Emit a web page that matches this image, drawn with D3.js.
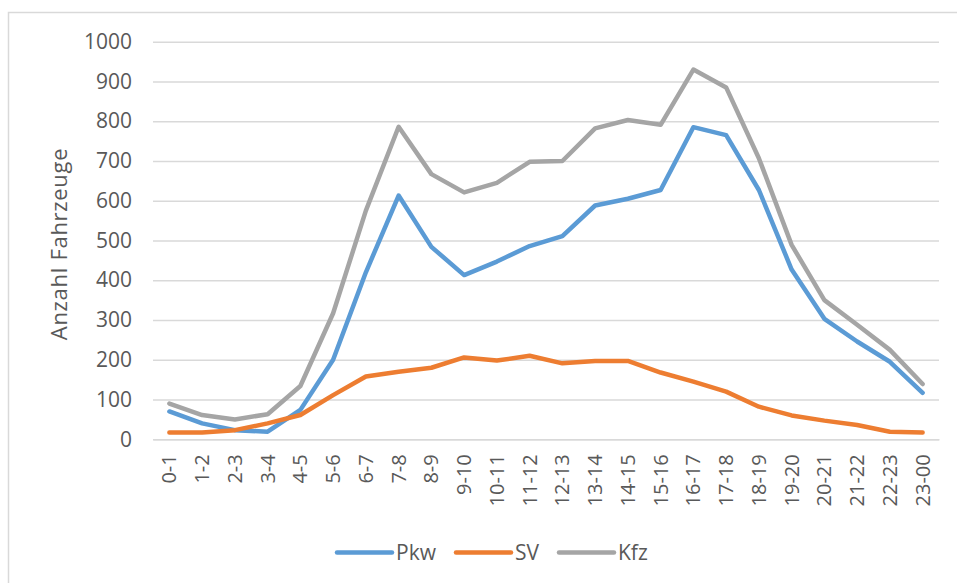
<!DOCTYPE html>
<html>
<head>
<meta charset="utf-8">
<script src="https://cdn.jsdelivr.net/npm/d3@7"></script>
<style>
  body { margin: 0; background: #fff; }
  text { font-family: "Open Sans", sans-serif; fill: #595959; }
</style>
</head>
<body>
<div id="chart"></div>
<script>
var svgWidth = 957;
var svgHeight = 583;

// hour slots and counts
var hours = ["0-1", "1-2", "2-3", "3-4", "4-5", "5-6", "6-7", "7-8", "8-9", "9-10",
  "10-11", "11-12", "12-13", "13-14", "14-15", "15-16", "16-17", "17-18",
  "18-19", "19-20", "20-21", "21-22", "22-23", "23-00"];
var pkw = [70, 40, 23, 19, 74, 200, 420, 613, 484, 413, 447, 486,
  511, 588, 605, 627, 785, 765, 627, 427, 303, 246, 195, 117];
var sv = [17, 17, 23, 40, 61, 111, 158, 170, 180, 206, 198, 210,
  191, 197, 197, 168, 145, 120, 82, 60, 47, 36, 19, 17];
var kfz = [90, 61, 50, 63, 134, 317, 575, 786, 667, 621, 645, 698,
  700, 782, 803, 791, 930, 885, 707, 489, 350, 288, 225, 139];
var yTicks = [0, 100, 200, 300, 400, 500, 600, 700, 800, 900, 1000];

var series = [
  { name: "Pkw", values: pkw, color: "#5B9BD5" },
  { name: "SV", values: sv, color: "#ED7D31" },
  { name: "Kfz", values: kfz, color: "#A5A5A5" }
];

var margin = { top: 41.7, left: 153 };
var width = 939 - margin.left;
var height = 439.3 - margin.top;

var svg = d3.select("#chart")
  .append("svg")
  .attr("width", svgWidth)
  .attr("height", svgHeight);

// light frame round the chart area
svg.append("rect")
  .attr("x", 8.5)
  .attr("y", 12.5)
  .attr("width", 960)
  .attr("height", 600)
  .attr("fill", "none")
  .attr("stroke", "#D9D9D9")
  .attr("stroke-width", 1.5);

var chartGroup = svg.append("g")
  .attr("transform", `translate(${margin.left}, ${margin.top})`);

var xScale = d3.scaleBand()
  .domain(hours)
  .range([0, width]);

var yScale = d3.scaleLinear()
  .domain([0, 1000])
  .range([height, 0]);

// gridlines + y tick labels
var leftAxis = d3.axisLeft(yScale)
  .tickValues(yTicks)
  .tickFormat(d3.format("d"))
  .tickSize(-width)
  .tickPadding(21);

var yAxis = chartGroup.append("g").call(leftAxis);
yAxis.select(".domain").remove();
yAxis.selectAll("line")
  .attr("stroke", "#D9D9D9")
  .attr("stroke-width", 1.5);
yAxis.selectAll("text")
  .style("font-size", "21px")
  .style("fill", "#595959")
  .style("font-family", "'Open Sans', sans-serif");

// x labels, rotated
var bottomAxis = d3.axisBottom(xScale).tickSize(0).tickPadding(0);
var xAxis = chartGroup.append("g")
  .attr("transform", `translate(0, ${height})`)
  .call(bottomAxis);
xAxis.select(".domain")
  .attr("stroke", "#D9D9D9")
  .attr("stroke-width", 1.5);
xAxis.selectAll("text")
  .attr("transform", "rotate(-90)")
  .attr("x", -15)
  .attr("y", 0)
  .attr("dy", "0.35em")
  .style("text-anchor", "end")
  .style("font-size", "20px")
  .style("fill", "#595959")
  .style("font-family", "'Open Sans', sans-serif");

// lines
var line = d3.line()
  .x((d, i) => xScale(hours[i]) + xScale.bandwidth() / 2)
  .y(d => yScale(d));

chartGroup.selectAll(".series")
  .data(series)
  .enter()
  .append("path")
  .attr("class", "series")
  .attr("d", d => line(d.values))
  .attr("fill", "none")
  .attr("stroke", d => d.color)
  .attr("stroke-width", 4.5)
  .attr("stroke-linejoin", "round")
  .attr("stroke-linecap", "round");

// y axis title
svg.append("text")
  .attr("transform", "translate(67, 244) rotate(-90)")
  .attr("text-anchor", "middle")
  .style("font-size", "22px")
  .style("letter-spacing", "0.7px")
  .text("Anzahl Fahrzeuge");

// legend
var legendX = [337, 456, 559];
var legend = svg.selectAll(".legend")
  .data(series)
  .enter()
  .append("g")
  .attr("class", "legend")
  .attr("transform", (d, i) => `translate(${legendX[i]}, 552.5)`);

legend.append("line")
  .attr("x1", 0)
  .attr("x2", 55)
  .attr("stroke", d => d.color)
  .attr("stroke-width", 4.5)
  .attr("stroke-linecap", "round");

legend.append("text")
  .attr("x", 59)
  .attr("dy", "0.35em")
  .style("font-size", "21px")
  .text(d => d.name);
</script>
</body>
</html>
